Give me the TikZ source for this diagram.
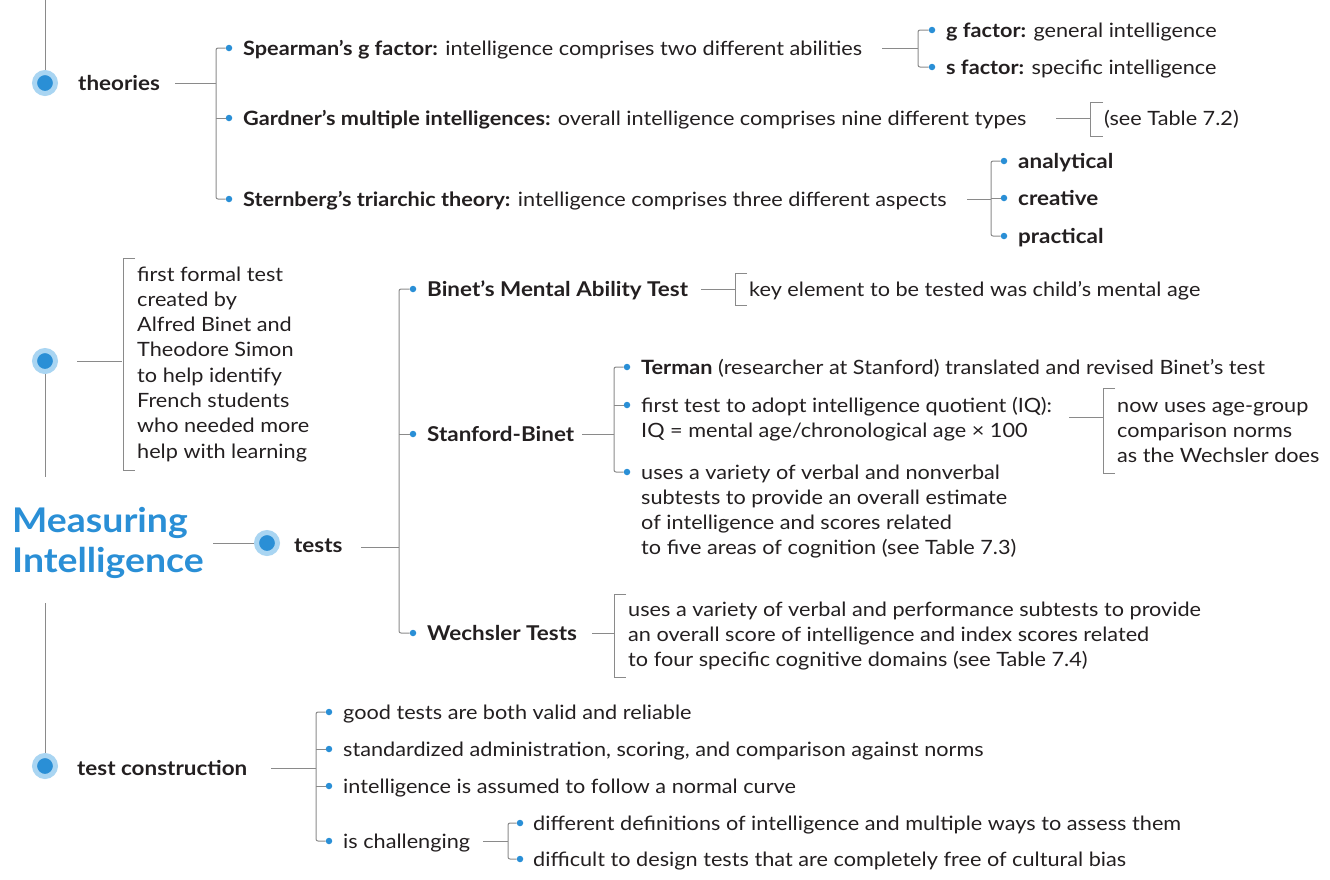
\documentclass[tikz,border=0pt]{standalone}
\usepackage{fontspec}
\setmainfont{Lato}[FakeStretch=1.1]
\definecolor{mblue}{HTML}{2A8FD6}
\definecolor{lblue}{HTML}{A9D5F2}
\definecolor{lgray}{HTML}{8A8A8A}
\definecolor{ink}{HTML}{231F20}
\begin{document}
\begin{tikzpicture}[x=1pt,y=-1pt,
  every node/.style={inner sep=0pt,text=ink},
  txt/.style={anchor=base west,font=\fontsize{19.7}{25.3}\selectfont,align=left},
  lbl/.style={anchor=base west,font=\fontsize{20.4}{24}\selectfont\bfseries},
  title/.style={anchor=base west,font=\fontsize{34}{40}\selectfont\bfseries,text=mblue,align=left},
  conn/.style={draw=lgray,line width=1pt},
  brk/.style={draw=lgray,line width=1pt,rounded corners=2pt},
  dot/.style={circle,fill=mblue,minimum size=6.5pt},
  hub/.style={circle,fill=mblue,draw=lblue,line width=5pt,minimum size=21pt}]
\useasboundingbox (0,0) rectangle (1330,879);

% hubs
\node[hub] (h1) at (45,83) {};
\node[hub] (h2) at (45,361) {};
\node[hub] (h3) at (267,543) {};
\node[hub] (h4) at (45,766) {};
\coordinate (top) at (45,0);
\coordinate (v2) at (45,477);
\coordinate (v3) at (45,603);
\draw[conn] (top) -- (h1.north);
\draw[conn] (h2.south) -- (v2);
\draw[conn] (v3) -- (h4.north);

% title (base = last line)
\node[title] (mi) at (12,572) {Measuring\\Intelligence};
\coordinate (mie) at (213,543);
\draw[conn] (mie) -- (h3.west);

% ---------- theories ----------
\node[lbl] (theo) at (78,90) {theories};
\node[dot] (t1) at (229,48) {};
\node[dot] (t2) at (229,118) {};
\node[dot] (t3) at (229,199) {};
\draw[conn] (175,83) -- (216,83);
\draw[brk] (t1) -| (216,118) |- (t3);
\draw[conn] (216,118) -- (t2);
\node[txt] (spear) at (243,55) {\textbf{Spearman’s g factor:} intelligence comprises two different abilities};
\node[txt] (gard) at (243,125) {\textbf{Gardner’s multiple intelligences:} overall intelligence comprises nine different types};
\node[txt] (stern) at (243,206) {\textbf{Sternberg’s triarchic theory:} intelligence comprises three different aspects};

% spearman children
\node[dot] (g1) at (932,30) {};
\node[dot] (g2) at (932,67) {};
\draw[conn] (882,48) -- (918,48);
\draw[brk] (g1) -| (918,48) |- (g2);
\node[txt] (gf) at (946,37) {\textbf{g factor:} general intelligence};
\node[txt] (sf) at (946,74) {\textbf{s factor:} specific intelligence};

% gardner child
\draw[conn] (1056,118) -- (1090,118);
\draw[conn] (1103,102) -- (1090,102) -- (1090,136) -- (1103,136);
\node[txt] (t72) at (1104,125) {(see Table 7.2)};

% sternberg children
\node[dot] (s1) at (1004,161) {};
\node[dot] (s2) at (1004,198) {};
\node[dot] (s3) at (1004,236) {};
\draw[conn] (967,199) -- (991,199);
\draw[brk] (s1) -| (991,198) |- (s3);
\draw[conn] (991,198) -- (s2);
\node[lbl] (ana) at (1018,168) {analytical};
\node[lbl] (cre) at (1018,205) {creative};
\node[lbl] (pra) at (1018,243) {practical};

% ---------- first formal test ----------
\draw[conn] (h2.east) ++(19,0) -- (122,361);
\draw[conn] (135,258) -- (123,258) -- (123,470) -- (135,470);
\node[txt] (fft) at (137,458.1) {first formal test\\created by\\Alfred Binet and\\Theodore Simon\\to help identify\\French students\\who needed more\\help with learning};

% ---------- tests ----------
\node[lbl] (tests) at (294,552) {tests};
\node[dot] (k1) at (413,289) {};
\node[dot] (k2) at (413,434) {};
\node[dot] (k3) at (413,633) {};
\draw[conn] (361,547) -- (399,547);
\draw[brk] (k1) -| (399,434) |- (k3);
\draw[conn] (399,434) -- (k2);
\node[lbl] (bin) at (427,296) {Binet’s Mental Ability Test};
\node[lbl] (stb) at (427,441) {Stanford-Binet};
\node[lbl] (wec) at (427,640) {Wechsler Tests};

% binet child
\draw[conn] (701,289) -- (735,289);
\draw[conn] (747,273) -- (735,273) -- (735,305) -- (747,305);
\node[txt] (key) at (749,296) {key element to be tested was child’s mental age};

% stanford children
\node[dot] (f1) at (627,367) {};
\node[dot] (f2) at (627,405) {};
\node[dot] (f3) at (627,472) {};
\draw[conn] (582,434) -- (614,434);
\draw[brk] (f1) -| (614,434) |- (f3);
\draw[conn] (614,405) -- (f2);
\node[txt] (ter) at (641,374) {\textbf{Terman} (researcher at Stanford) translated and revised Binet’s test};
\node[txt] (iq) at (641,437.3) {first test to adopt intelligence quotient (IQ):\\IQ = mental age/chronological age × 100};
\node[txt] (var) at (641,554.9) {uses a variety of verbal and nonverbal\\subtests to provide an overall estimate\\of intelligence and scores related\\to five areas of cognition (see Table 7.3)};
\draw[conn] (1069,417) -- (1103,417);
\draw[conn] (1115,388) -- (1103,388) -- (1103,473) -- (1115,473);
\node[txt] (now) at (1117,462.6) {now uses age-group\\comparison norms\\as the Wechsler does};

% wechsler child
\draw[conn] (592,633) -- (614,633);
\draw[conn] (626,594) -- (614,594) -- (614,677) -- (626,677);
\node[txt] (wt) at (628,666.6) {uses a variety of verbal and performance subtests to provide\\an overall score of intelligence and index scores related\\to four specific cognitive domains (see Table 7.4)};

% ---------- test construction ----------
\node[lbl] (tc) at (77,775) {test construction};
\node[dot] (c1) at (329,712) {};
\node[dot] (c2) at (329,749) {};
\node[dot] (c3) at (329,786) {};
\node[dot] (c4) at (329,841) {};
\draw[conn] (271,768) -- (316,768);
\draw[brk] (c1) -| (316,786) |- (c4);
\draw[conn] (316,749) -- (c2);
\draw[conn] (316,786) -- (c3);
\node[txt] (gt) at (343,719) {good tests are both valid and reliable};
\node[txt] (sa) at (343,756) {standardized administration, scoring, and comparison against norms};
\node[txt] (nc) at (343,793) {intelligence is assumed to follow a normal curve};
\node[txt] (ch) at (343,848) {is challenging};
\node[dot] (e1) at (520,823) {};
\node[dot] (e2) at (520,859) {};
\draw[conn] (483,841) -- (508,841);
\draw[brk] (e1) -| (508,841) |- (e2);
\node[txt] (dd) at (533,830) {different definitions of intelligence and multiple ways to assess them};
\node[txt] (df) at (533,866) {difficult to design tests that are completely free of cultural bias};
\end{tikzpicture}
\end{document}
